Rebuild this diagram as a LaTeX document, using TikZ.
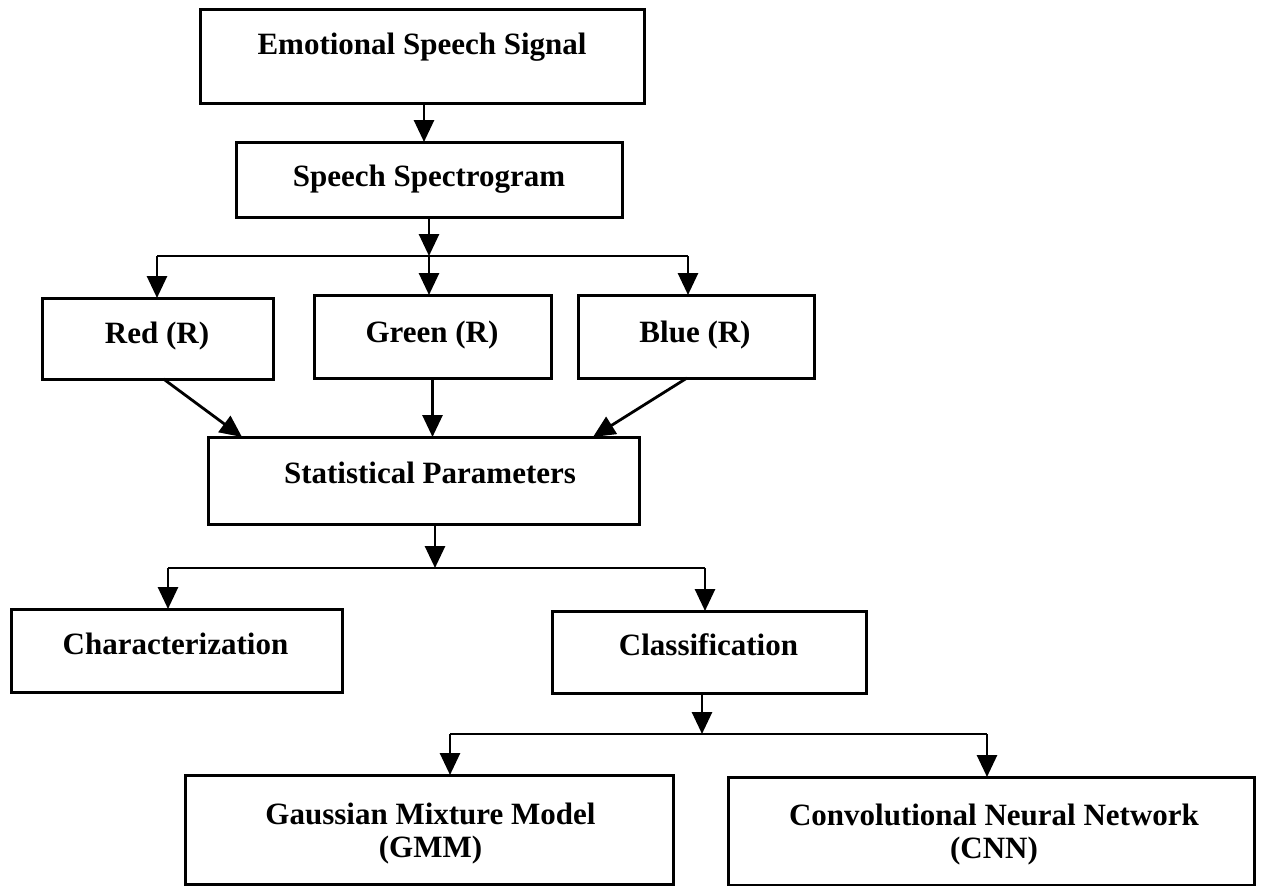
\documentclass[tikz,border=0pt]{standalone}
\usepackage{fontspec}
\setmainfont{Liberation Serif}
\usetikzlibrary{arrows.meta,calc}
\tikzset{
  box/.style={draw=black, line width=3pt, fill=white, inner sep=0pt, outer sep=0pt},
  lbl/.style={anchor=base, inner sep=0pt, font=\bfseries\fontsize{31}{34}\selectfont},
  arr/.style={draw=black, line width=2.8pt, -{Triangle[width=20pt,length=22pt]}},
  ln/.style={draw=black, line width=2.8pt}
}
\begin{document}
\begin{tikzpicture}[x=1pt,y=-1pt]
\useasboundingbox (0,0) rectangle (1264,886);
% boxes
\node[box, minimum width=444pt, minimum height=94pt] (ess) at (422,56) {};
\node[lbl] (esst) at (422,54) {Emotional Speech Signal};
\node[box, minimum width=386pt, minimum height=75pt] (ss) at (429,179.5) {};
\node[lbl] (sst) at (429,186) {Speech Spectrogram};
\node[box, minimum width=231pt, minimum height=81pt] (red) at (157.5,338.5) {};
\node[lbl] (redt) at (157,343) {Red (R)};
\node[box, minimum width=237pt, minimum height=83pt] (green) at (432.5,336.5) {};
\node[lbl] (greent) at (432,342) {Green (R)};
\node[box, minimum width=236pt, minimum height=83pt] (blue) at (696,336.5) {};
\node[lbl] (bluet) at (695,342) {Blue (R)};
\node[box, minimum width=431pt, minimum height=87pt] (sp) at (423.5,480.5) {};
\node[lbl] (spt) at (430,483) {Statistical Parameters};
\node[box, minimum width=331pt, minimum height=83pt] (char) at (176.5,650.5) {};
\node[lbl] (chart) at (175.5,654) {Characterization};
\node[box, minimum width=314pt, minimum height=82pt] (class) at (709,652) {};
\node[lbl] (classt) at (708.5,655) {Classification};
\node[box, minimum width=488pt, minimum height=109pt] (gmm) at (429,829.5) {};
\node[lbl] (gmmt1) at (430.5,824) {Gaussian Mixture Model};
\node[lbl] (gmmt2) at (430.5,857) {(GMM)};
\node[box, minimum width=526pt, minimum height=108pt] (cnn) at (991,831) {};
\node[lbl] (cnnt1) at (994,825) {Convolutional Neural Network};
\node[lbl] (cnnt2) at (994,858) {(CNN)};
% branch points
\coordinate (b1) at (429,256);
\coordinate (b1l) at (157,256);
\coordinate (b1r) at (688,256);
\coordinate (b2) at (435,568);
\coordinate (b2l) at (168,568);
\coordinate (b2r) at (705,568);
\coordinate (b3) at (702,734);
\coordinate (b3l) at (450,734);
\coordinate (b3r) at (987,734);
% connectors
\draw[arr] (ess.south -| 424,0) -- (ss.north -| 424,0);
\draw[ln] (b1l) -- (b1r);
\draw[arr] (ss.south) -- (b1);
\draw[arr] (b1l) -- (b1l |- red.north);
\draw[arr] (b1) -- (b1 |- green.north);
\draw[arr] (b1r) -- (b1r |- blue.north);
\draw[arr] ([xshift=6pt]red.south) -- ([xshift=-181.5pt]sp.north);
\draw[arr] (green.south) -- (green.south |- sp.north);
\draw[arr] ([xshift=-9pt]blue.south) -- ([xshift=169.5pt]sp.north);
\draw[ln] (b2l) -- (b2r);
\draw[arr] (sp.south -| b2) -- (b2);
\draw[arr] (b2l) -- (b2l |- char.north);
\draw[arr] (b2r) -- (b2r |- class.north);
\draw[ln] (b3l) -- (b3r);
\draw[arr] (class.south -| b3) -- (b3);
\draw[arr] (b3l) -- (b3l |- gmm.north);
\draw[arr] (b3r) -- (b3r |- cnn.north);
\end{tikzpicture}
\end{document}
